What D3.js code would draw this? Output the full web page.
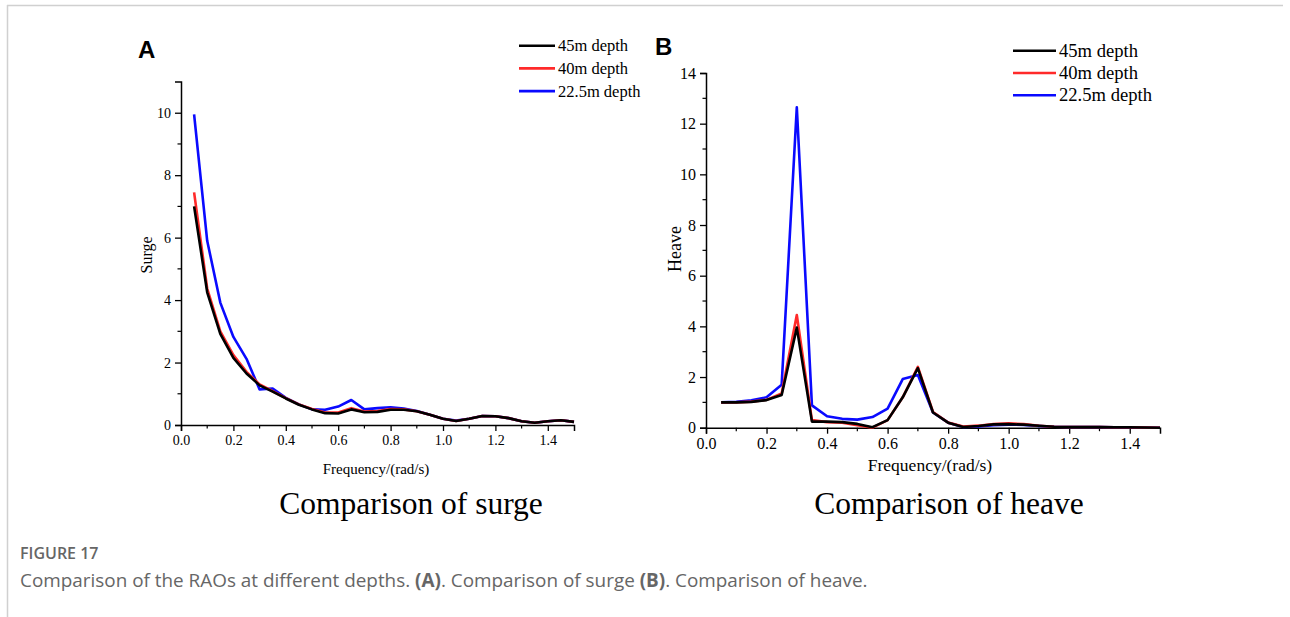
<!DOCTYPE html>
<html><head><meta charset="utf-8">
<script src="https://cdn.jsdelivr.net/npm/d3@7"></script>
<style>
html,body{margin:0;padding:0;background:#fff;}
svg{display:block;}
</style></head>
<body>
<svg id="c" width="1290" height="617"></svg>
<script>
// ---- data ----
const freq = [0.05,0.10,0.15,0.20,0.25,0.30,0.35,0.40,0.45,0.50,0.55,0.60,0.65,0.70,0.75,0.80,0.85,0.90,0.95,1.00,1.05,1.10,1.15,1.20,1.25,1.30,1.35,1.40,1.45,1.50];
const seriesNames = ["45m depth","40m depth","22.5m depth"];
const seriesColors = ["#000000","#ff2a2a","#0a0aff"];
const surge45  = [7.0,4.25,2.92,2.15,1.65,1.27,1.07,0.85,0.65,0.50,0.38,0.37,0.50,0.41,0.42,0.49,0.49,0.44,0.33,0.20,0.13,0.20,0.29,0.28,0.22,0.12,0.07,0.12,0.15,0.10];
const surge40  = [7.45,4.37,3.0,2.24,1.70,1.30,1.08,0.86,0.66,0.51,0.40,0.40,0.54,0.43,0.45,0.51,0.50,0.44,0.33,0.20,0.13,0.20,0.29,0.28,0.22,0.12,0.07,0.12,0.15,0.10];
const surge22  = [9.95,5.9,3.92,2.82,2.12,1.14,1.17,0.87,0.66,0.50,0.49,0.59,0.80,0.50,0.54,0.57,0.53,0.45,0.33,0.20,0.14,0.20,0.29,0.28,0.22,0.12,0.07,0.12,0.15,0.10];
const heave45  = [1.0,1.0,1.02,1.09,1.29,3.95,0.24,0.24,0.22,0.15,0.02,0.30,1.20,2.35,0.60,0.20,0.03,0.07,0.13,0.14,0.12,0.08,0.04,0.03,0.03,0.03,0.02,0.02,0.01,0.0];
const heave40  = [1.0,1.0,1.03,1.10,1.35,4.45,0.30,0.22,0.20,0.10,0.0,0.30,1.20,2.40,0.62,0.20,0.05,0.08,0.14,0.17,0.14,0.08,0.04,0.03,0.03,0.03,0.02,0.02,0.01,0.0];
const heave22  = [1.0,1.02,1.08,1.20,1.70,12.65,0.88,0.45,0.35,0.32,0.42,0.75,1.92,2.08,0.60,0.20,0.03,0.05,0.10,0.12,0.11,0.07,0.04,0.03,0.03,0.03,0.02,0.02,0.01,0.0];
const xTicks = [0.0,0.2,0.4,0.6,0.8,1.0,1.2,1.4];
const surgeTicks = [0,2,4,6,8,10];
const heaveTicks = [0,2,4,6,8,10,12,14];
const panelLetters = ["A","B"];
const panelTitles = ["Comparison of surge","Comparison of heave"];
const yTitles = ["Surge","Heave"];
const xTitle = "Frequency/(rad/s)";

const svg = d3.select("#c");
const serif = "'Liberation Serif','Times New Roman',serif";

// frame
svg.append("line").attr("x1",7).attr("x2",1283).attr("y1",5.5).attr("y2",5.5).attr("stroke","#d0d0d0").attr("stroke-width",1.5);
svg.append("line").attr("x1",7.5).attr("x2",7.5).attr("y1",5).attr("y2",617).attr("stroke","#d0d0d0").attr("stroke-width",1.5);

const panels = [
  {x0:181,x1:574,y0:425,y1:81.5,ymax:11,yt:surgeTicks,data:[surge45,surge40,surge22],
   tickFs:14,letter:{x:138,y:58},legend:{x:519,len:36,y:45.7,dy:22.7,fs:16.5},
   ytitle:{x:152,y:255,fs:16},xtitle:{x:376,y:474,fs:15},title:{x:411,y:514}},
  {x0:706,x1:1160,y0:427.7,y1:73,ymax:14,yt:heaveTicks,data:[heave45,heave40,heave22],
   tickFs:16,letter:{x:655,y:55},legend:{x:1013,len:43,y:50.7,dy:22.3,fs:18.6},
   ytitle:{x:681,y:249,fs:18},xtitle:{x:930,y:471,fs:17.5},title:{x:949,y:514}}
];

panels.forEach((p,pi)=>{
  const x = d3.scaleLinear().domain([0,1.5]).range([p.x0,p.x1]);
  const y = d3.scaleLinear().domain([0,p.ymax]).range([p.y0,p.y1]);
  const g = svg.append("g");

  // minor ticks
  const minorX = d3.range(0.1,1.5,0.2);
  g.selectAll(".mx").data(minorX).join("line")
    .attr("x1",d=>x(d)).attr("x2",d=>x(d)).attr("y1",p.y0).attr("y2",p.y0+3.5)
    .attr("stroke","#000").attr("stroke-width",1.2);
  const minorY = d3.range(1,p.ymax,2);
  g.selectAll(".my").data(minorY).join("line")
    .attr("x1",p.x0-3.5).attr("x2",p.x0).attr("y1",d=>y(d)).attr("y2",d=>y(d))
    .attr("stroke","#000").attr("stroke-width",1.2);

  const xAxis = d3.axisBottom(x).tickValues(xTicks).tickFormat(d3.format(".1f")).tickSizeOuter(0).tickSize(6).tickPadding(4);
  const yAxis = d3.axisLeft(y).tickValues(p.yt).tickFormat(d3.format("d")).tickSizeOuter(0).tickSize(6).tickPadding(4);
  const gx = g.append("g").attr("transform",`translate(0,${p.y0})`).call(xAxis);
  const gy = g.append("g").attr("transform",`translate(${p.x0},0)`).call(yAxis);
  [gx,gy].forEach(a=>{
    a.attr("font-size",null).attr("font-family",null);
    a.select(".domain").attr("stroke","#000").attr("stroke-width",1.5);
    a.selectAll(".tick line").attr("stroke","#000").attr("stroke-width",1.3);
    a.selectAll(".tick text").attr("font-family",serif).attr("font-size",p.tickFs).attr("fill","#000");
  });

  // lines
  const line = d3.line().x((d,i)=>x(freq[i])).y(d=>y(d));
  [2,1,0].forEach(si=>{
    g.append("path").datum(p.data[si]).attr("d",line)
      .attr("fill","none").attr("stroke",seriesColors[si]).attr("stroke-width",2.6)
      .attr("stroke-linejoin","round");
  });
  // legend
  seriesNames.forEach((n,i)=>{
    const ly = p.legend.y + i*p.legend.dy;
    g.append("line").attr("x1",p.legend.x).attr("x2",p.legend.x+p.legend.len)
      .attr("y1",ly).attr("y2",ly).attr("stroke",seriesColors[i]).attr("stroke-width",2.6);
    g.append("text").attr("x",p.legend.x+p.legend.len+3).attr("y",ly+p.legend.fs*0.33)
      .attr("font-family",serif).attr("font-size",p.legend.fs).attr("fill","#000").text(n);
  });
  // letter
  g.append("text").attr("x",p.letter.x).attr("y",p.letter.y).attr("font-family","'Liberation Sans',Arial,sans-serif")
    .attr("font-weight","bold").attr("font-size",24).text(panelLetters[pi]);
  // y title
  g.append("text").attr("transform",`translate(${p.ytitle.x},${p.ytitle.y}) rotate(-90)`)
    .attr("text-anchor","middle").attr("font-family",serif).attr("font-size",p.ytitle.fs).text(yTitles[pi]);
  // x title
  g.append("text").attr("x",p.xtitle.x).attr("y",p.xtitle.y).attr("text-anchor","middle")
    .attr("font-family",serif).attr("font-size",p.xtitle.fs).text(xTitle);
  // panel title
  g.append("text").attr("x",p.title.x).attr("y",p.title.y).attr("text-anchor","middle")
    .attr("font-family",serif).attr("font-size",31.5).text(panelTitles[pi]);
});

// caption
const sans = "'Open Sans','Noto Sans',sans-serif";
svg.append("text").attr("x",20).attr("y",559).attr("font-family",sans).attr("font-size",16)
  .attr("font-weight","600").attr("fill","#666").text("FIGURE 17");
const cap = svg.append("text").attr("x",20).attr("y",587).attr("font-family",sans).attr("font-size",18.9).attr("fill","#666");
cap.append("tspan").text("Comparison of the RAOs at different depths. ");
cap.append("tspan").attr("font-weight","bold").text("(A)");
cap.append("tspan").text(". Comparison of surge ");
cap.append("tspan").attr("font-weight","bold").text("(B)");
cap.append("tspan").text(". Comparison of heave.");
</script>
</body></html>
